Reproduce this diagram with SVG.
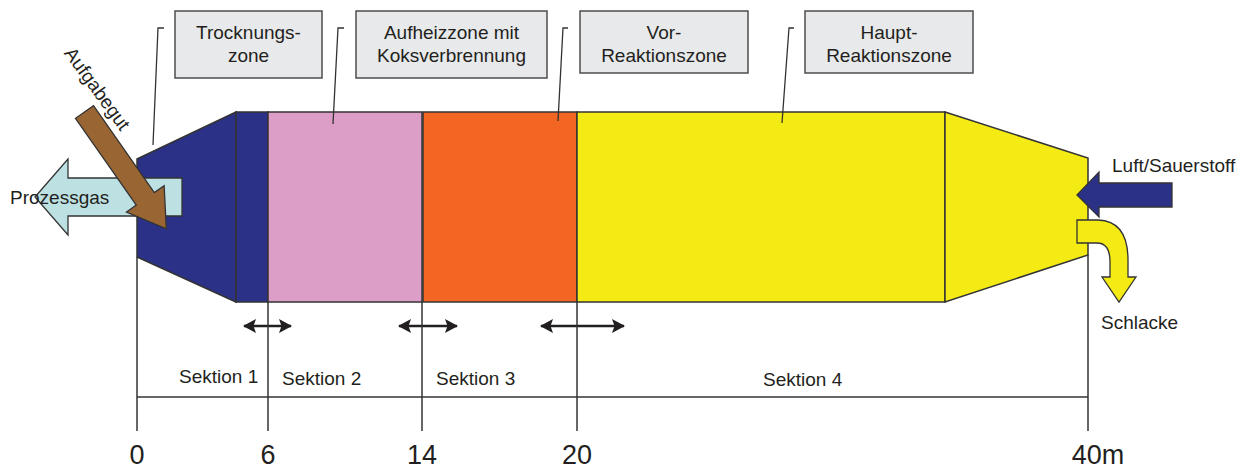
<svg xmlns="http://www.w3.org/2000/svg" width="1252" height="470" viewBox="0 0 1252 470">
<style>
text{font-family:"Liberation Sans",Arial,sans-serif;fill:#231f20}
.lbl{font-size:19px}
.box{fill:#e8e9eb;stroke:#4d4d4f;stroke-width:1.5}
.zone{stroke:#333;stroke-width:1.5}
.lead{fill:none;stroke:#333;stroke-width:1.3}
.axis{fill:none;stroke:#333;stroke-width:1.5}
.dbl{stroke:#231f20;stroke-width:2.5}
.tick{font-size:27px;text-anchor:middle}
</style>
<defs>
<marker id="ah" viewBox="0 0 13 14" refX="12" refY="7" markerWidth="13" markerHeight="14" orient="auto-start-reverse" markerUnits="userSpaceOnUse">
<path d="M0,0 L13,7 L0,14 L2.5,7 Z" fill="#231f20"/>
</marker>
</defs>

<g id="reactor">
<polygon id="funnel-left" class="zone" points="137,159 236,112 236,302 137,257" fill="#2b3187"/>
<rect id="zone-dry" class="zone" x="236" y="112" width="32" height="190" fill="#2b3187"/>
<rect id="zone-heat" class="zone" x="268" y="112" width="154" height="190" fill="#dc9ec6"/>
<rect id="zone-pre" class="zone" x="423" y="112" width="154" height="190" fill="#f26522"/>
<rect id="zone-main" class="zone" x="577" y="112" width="368" height="190" fill="#f5eb14"/>
<polygon id="funnel-right" class="zone" points="945,112 1088,158 1088,255 945,302" fill="#f5eb14"/>
</g>

<g id="prozessgas">
<polygon points="35,197 68,159 68,178 182,178 182,216 68,216 68,235" fill="#bde1e3" stroke="#333" stroke-width="1.3"/>
</g>

<g id="aufgabegut">
<g transform="translate(84.5,112) rotate(55)">
<polygon points="0,-11 106,-11 106,-23 142.6,0 106,23 106,11 0,11" fill="#996633" stroke="#333" stroke-width="1.3"/>
</g>
<text class="lbl" transform="translate(97,89) rotate(54)" text-anchor="middle" y="6">Aufgabegut</text>
</g>
<text class="lbl" x="10" y="204">Prozessgas</text>

<g id="luft">
<polygon points="1077,195 1099,172 1099,183 1172,183 1172,207 1099,207 1099,217" fill="#2b3187" stroke="#333" stroke-width="1.3"/>
<text class="lbl" x="1112" y="172">Luft/Sauerstoff</text>
</g>

<g id="schlacke">
<path d="M1077,220 L1098,220 Q1128,221 1128,260 L1128,277 L1136,277 L1119,302 L1102,277 L1110,277 L1110,262 Q1110,243 1097,243 L1077,243 Z" fill="#f5eb14" stroke="#333" stroke-width="1.3"/>
<text class="lbl" x="1101" y="329">Schlacke</text>
</g>

<g id="box-trocknung">
<rect class="box" x="175" y="11" width="147" height="67"/>
<text class="lbl" x="248.5" y="39" text-anchor="middle">Trocknungs-</text>
<text class="lbl" x="248.5" y="62" text-anchor="middle">zone</text>
</g>
<g id="box-aufheiz">
<rect class="box" x="356" y="11" width="191" height="67"/>
<text class="lbl" x="451.5" y="39" text-anchor="middle">Aufheizzone mit</text>
<text class="lbl" x="451.5" y="62" text-anchor="middle">Koksverbrennung</text>
</g>
<g id="box-vor">
<rect class="box" x="580" y="11" width="168" height="62"/>
<text class="lbl" x="664" y="39" text-anchor="middle">Vor-</text>
<text class="lbl" x="664" y="62" text-anchor="middle">Reaktionszone</text>
</g>
<g id="box-haupt">
<rect class="box" x="805" y="11" width="168" height="62"/>
<text class="lbl" x="889" y="39" text-anchor="middle">Haupt-</text>
<text class="lbl" x="889" y="62" text-anchor="middle">Reaktionszone</text>
</g>

<g id="connectors">
<polyline class="lead" points="164,28 158,28 153,145"/>
<polyline class="lead" points="344,28 338,28 333,124"/>
<polyline class="lead" points="568,28 563,28 558,121"/>
<polyline class="lead" points="794,28 789,28 782,123"/>
<line class="dbl" x1="244" y1="326" x2="291" y2="326" marker-start="url(#ah)" marker-end="url(#ah)"/>
<line class="dbl" x1="399" y1="326" x2="457" y2="326" marker-start="url(#ah)" marker-end="url(#ah)"/>
<line class="dbl" x1="541" y1="326" x2="624" y2="326" marker-start="url(#ah)" marker-end="url(#ah)"/>
</g>

<g id="scale">
<line class="axis" x1="137" y1="257" x2="137" y2="431"/>
<line class="axis" x1="268" y1="302" x2="268" y2="431"/>
<line class="axis" x1="422" y1="302" x2="422" y2="431"/>
<line class="axis" x1="577" y1="302" x2="577" y2="431"/>
<line class="axis" x1="1088" y1="255" x2="1088" y2="431"/>
<line class="axis" x1="137" y1="397" x2="1088" y2="397"/>
<text class="lbl" x="179" y="383">Sektion 1</text>
<text class="lbl" x="282" y="385">Sektion 2</text>
<text class="lbl" x="436" y="385">Sektion 3</text>
<text class="lbl" x="763" y="386">Sektion 4</text>
<text class="tick" x="137" y="464">0</text>
<text class="tick" x="268" y="464">6</text>
<text class="tick" x="422" y="464">14</text>
<text class="tick" x="577" y="464">20</text>
<text class="tick" x="1098" y="464">40m</text>
</g>
</svg>
